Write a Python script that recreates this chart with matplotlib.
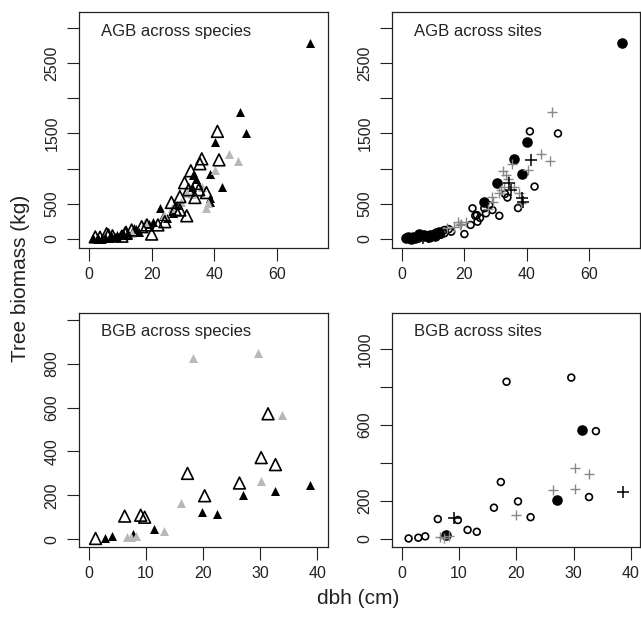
import matplotlib
matplotlib.use("Agg")
import matplotlib.pyplot as plt
import numpy as np

plt.rcParams["font.family"] = ["Liberation Sans", "DejaVu Sans"]

# AGB data: dbh (cm), biomass (kg), species group, site group
agb_dbh = [70.5, 48.2, 50.0, 41.0, 40.2, 41.5, 44.6, 47.5, 42.5, 36.0,
           35.4, 38.5, 40.3, 32.5, 30.5, 33.3, 34.3, 32.8, 35.0, 36.0,
           37.5, 38.6, 38.7, 37.2, 38.0, 33.8, 31.2, 29.0, 26.3, 29.3,
           31.2, 29.0, 26.4, 26.9, 22.6, 24.2, 24.0, 25.0, 20.0, 20.5,
           16.8, 17.9, 19.0, 22.0, 13.6, 13.6, 15.8, 14.5, 12.5, 11.5,
           9.9, 6.2, 1.2, 2.0, 2.8, 3.5, 4.2, 5.0, 5.6, 6.8,
           7.5, 8.3, 9.0, 10.5, 10.9, 8.8, 3.0,
           34.0, 31.8, 33.0, 28.0, 27.5, 23.5, 18.5, 15.0, 11.8, 7.0]
agb_kg = [2780, 1810, 1500, 1530, 1385, 1125, 1210, 1110, 745, 1140,
          1070, 930, 985, 970, 800, 905, 790, 744, 700, 745,
          660, 579, 530, 440, 508, 590, 650, 602, 520, 531,
          330, 412, 436, 365, 436, 246, 340, 300, 70, 246,
          175, 246, 220, 200, 128, 81, 104, 150, 60, 80,
          57, 57, 20, 30, 15, 25, 10, 35, 75, 20,
          45, 30, 60, 40, 80, 25, 5,
          860, 700, 640, 480, 420, 330, 200, 140, 95, 50]
agb_species = ["A", "A", "A", "B", "A", "B", "C", "C", "A", "B",
               "B", "A", "C", "B", "B", "A", "B", "A", "B", "C",
               "B", "A", "A", "C", "C", "B", "C", "B", "B", "C",
               "B", "B", "C", "A", "A", "B", "C", "A", "B", "A",
               "B", "C", "A", "B", "B", "C", "A", "A", "A", "B",
               "A", "B", "A", "B", "A", "B", "A", "A", "B", "A",
               "B", "A", "A", "B", "A", "A", "A",
               "A", "B", "C", "A", "B", "A", "B", "A", "B", "A"]
agb_site = ["S2", "S3", "S1", "S1", "S2", "S4", "S3", "S3", "S1", "S2",
            "S3", "S2", "S3", "S3", "S2", "S3", "S4", "S3", "S4", "S3",
            "S3", "S4", "S4", "S1", "S3", "S1", "S3", "S3", "S2", "S3",
            "S1", "S1", "S1", "S1", "S1", "S1", "S1", "S1", "S1", "S3",
            "S3", "S3", "S3", "S1", "S1", "S1", "S1", "S3", "S1", "S2",
            "S2", "S2", "S2", "S2", "S2", "S2", "S2", "S2", "S2", "S4",
            "S2", "S4", "S2", "S2", "S2", "S2", "S2",
            "S3", "S3", "S1", "S1", "S3", "S1", "S3", "S1", "S2", "S2"]

# BGB data
bgb_dbh = [18.3, 29.6, 31.4, 33.9, 30.2, 32.7, 30.2, 32.7, 38.7, 17.3,
           26.4, 27.1, 20.3, 16.1, 19.9, 22.5, 6.3, 9.1, 9.8, 11.5,
           13.1, 7.8, 6.7, 8.3, 7.4, 1.2, 2.9, 4.1]
bgb_kg = [828, 850, 572, 568, 372, 340, 263, 221, 245, 300,
          256, 203, 198, 165, 126, 115, 105, 109, 100, 48,
          38, 22, 10, 14, 8, 3, 7, 14]
bgb_species = ["C", "C", "B", "C", "B", "B", "C", "A", "A", "B",
               "B", "A", "B", "C", "A", "A", "B", "B", "B", "A",
               "C", "A", "C", "C", "C", "B", "A", "A"]
bgb_site = ["S1", "S1", "S2", "S1", "S3", "S3", "S3", "S1", "S4", "S1",
            "S3", "S2", "S1", "S1", "S3", "S1", "S1", "S4", "S1", "S1",
            "S1", "S2", "S3", "S3", "S3", "S1", "S1", "S1"]

species_style = {
    "A": dict(marker="^", s=42, c="black", linewidths=0),
    "C": dict(marker="^", s=42, c="#b8b8b8", linewidths=0),
    "B": dict(marker="^", s=72, facecolors="none", edgecolors="black", linewidths=1.2),
}
site_style = {
    "S1": dict(marker="o", s=24, facecolors="none", edgecolors="black", linewidths=1.2),
    "S2": dict(marker="o", s=58, c="black", linewidths=0),
    "S3": dict(marker="+", s=60, c="#888888", linewidths=1.0),
    "S4": dict(marker="+", s=85, c="black", linewidths=1.1),
}


def panel(ax, x, y, groups, styles, title, xlim, ylim, xticks, yticks, ylabels):
    x = np.array(x)
    y = np.array(y)
    groups = np.array(groups)
    for g, st in styles.items():
        m = groups == g
        ax.scatter(x[m], y[m], clip_on=False, **st)
    ax.set_xlim(xlim)
    ax.set_ylim(ylim)
    ax.set_xticks(xticks)
    ax.set_yticks(yticks)
    ax.set_yticklabels(ylabels)
    ax.tick_params(length=9, width=0.8, labelsize=11.5, pad=5, colors="#222222")
    for lab in ax.get_yticklabels():
        lab.set_rotation(90)
        lab.set_va("center")
    for sp in ax.spines.values():
        sp.set_linewidth(0.9)
        sp.set_color("#222222")
    ax.text(0.09, 0.9, title, transform=ax.transAxes, fontsize=12,
            va="baseline", ha="left", color="#222222")


fig = plt.figure(figsize=(6.41, 6.18), dpi=100)
ax1 = fig.add_axes([79 / 641, 1 - 248 / 618, 249 / 641, 236 / 618])
ax2 = fig.add_axes([392 / 641, 1 - 248 / 618, 248 / 641, 236 / 618])
ax3 = fig.add_axes([79 / 641, 1 - 547 / 618, 249 / 641, 234 / 618])
ax4 = fig.add_axes([392 / 641, 1 - 547 / 618, 248 / 641, 234 / 618])

top_yticks = [0, 500, 1000, 1500, 2000, 2500, 3000]
top_ylabels = ["0", "500", "", "1500", "", "2500", ""]

panel(ax1, agb_dbh, agb_kg, agb_species, species_style, "AGB across species",
      (-3.2, 76.3), (-128, 3227), [0, 20, 40, 60], top_yticks, top_ylabels)
panel(ax2, agb_dbh, agb_kg, agb_site, site_style, "AGB across sites",
      (-3.2, 76.3), (-128, 3227), [0, 20, 40, 60], top_yticks, top_ylabels)
panel(ax3, bgb_dbh, bgb_kg, bgb_species, species_style, "BGB across species",
      (-1.7, 41.9), (-36, 1032), [0, 10, 20, 30, 40],
      [0, 200, 400, 600, 800, 1000], ["0", "200", "400", "600", "800", ""])
panel(ax4, bgb_dbh, bgb_kg, bgb_site, site_style, "BGB across sites",
      (-1.7, 41.6), (-42, 1190), [0, 10, 20, 30, 40],
      [0, 200, 400, 600, 800, 1000], ["0", "200", "", "600", "", "1000"])

fig.text(21 / 641, 1 - 278 / 618, "Tree biomass (kg)", rotation=90,
         ha="center", va="center", fontsize=15, color="#222222")
fig.text(358 / 641, 1 - 598 / 618, "dbh (cm)", ha="center", va="center",
         fontsize=15, color="#222222")

fig.savefig("out.png", dpi=100)
